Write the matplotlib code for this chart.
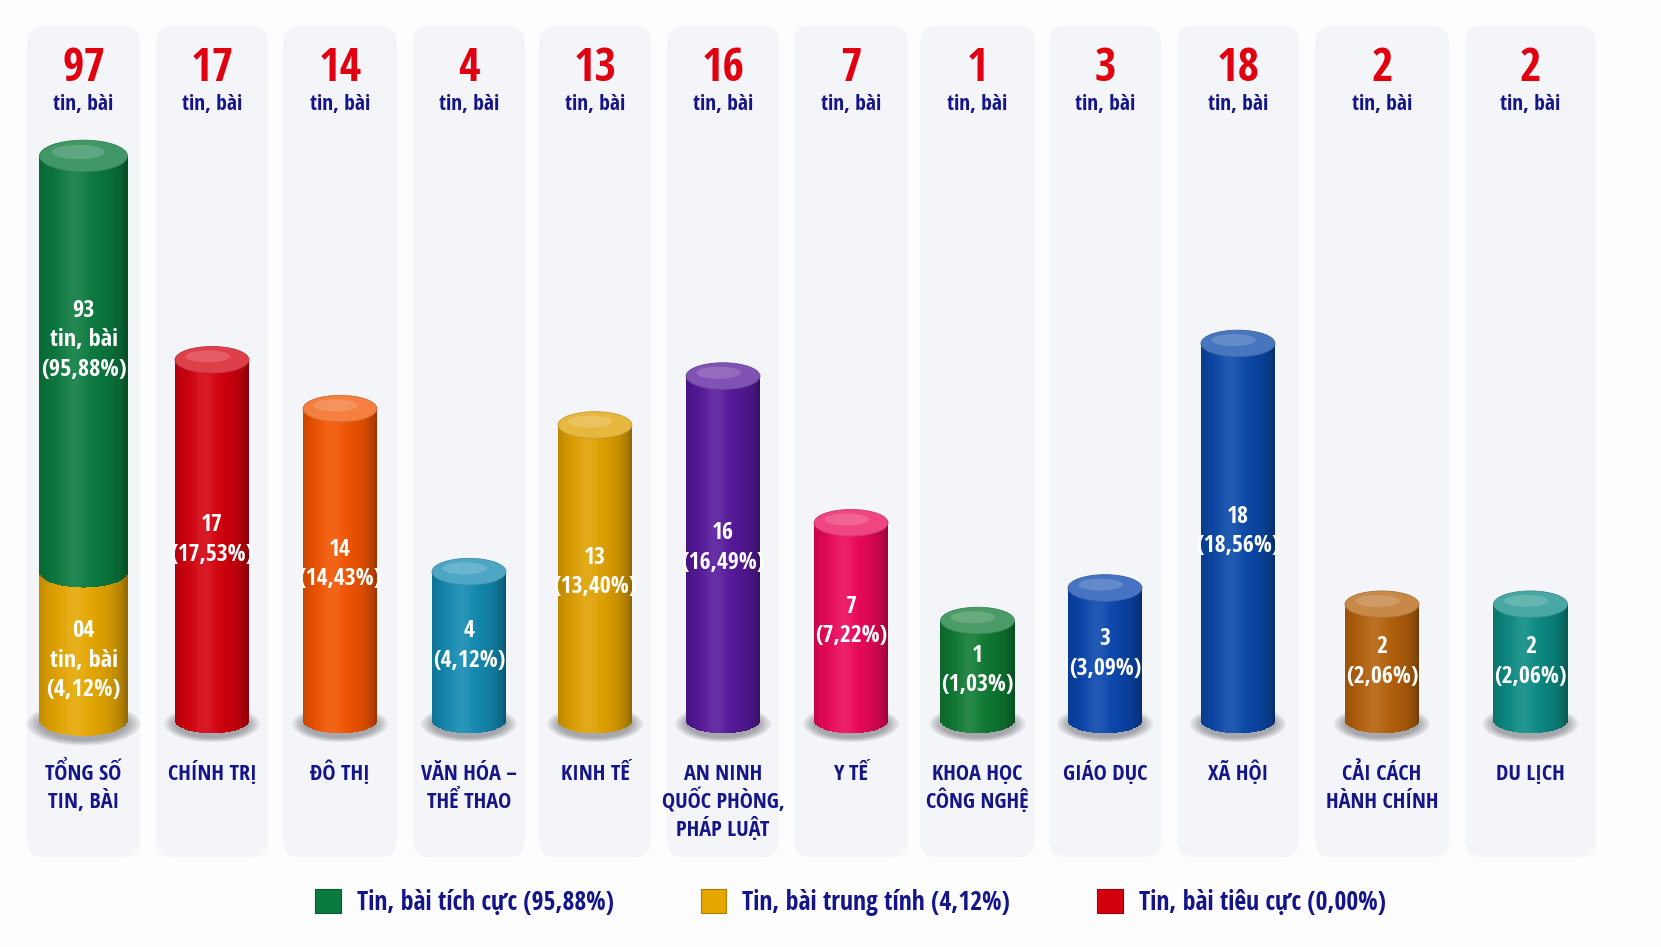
import matplotlib
matplotlib.use("Agg")
import matplotlib.pyplot as plt
import numpy as np
from matplotlib import transforms
from matplotlib.colors import to_rgb
from matplotlib.patches import Ellipse, FancyBboxPatch, Patch

# ---- data ----
categories = ["TỔNG SỐ\nTIN, BÀI", "CHÍNH TRỊ", "ĐÔ THỊ", "VĂN HÓA –\nTHỂ THAO", "KINH TẾ",
              "AN NINH\nQUỐC PHÒNG,\nPHÁP LUẬT", "Y TẾ", "KHOA HỌC\nCÔNG NGHỆ", "GIÁO DỤC",
              "XÃ HỘI", "CẢI CÁCH\nHÀNH CHÍNH", "DU LỊCH"]
counts = [97, 17, 14, 4, 13, 16, 7, 1, 3, 18, 2, 2]
shares = [100.0, 17.53, 14.43, 4.12, 13.40, 16.49, 7.22, 1.03, 3.09, 18.56, 2.06, 2.06]

sentiment_labels = ["Tin, bài tích cực", "Tin, bài trung tính", "Tin, bài tiêu cực"]
sentiment_counts = [93, 4, 0]
sentiment_shares = [95.88, 4.12, 0.00]

# ---- styles / layout ----
bar_colors = [None, "#d3000d", "#f15400", "#1289b0", "#dfa000", "#56189a", "#ea0757",
              "#0e7a32", "#0a46ad", "#0a48a8", "#b4600b", "#0b8a83"]
sentiment_colors = ["#0a7a3e", "#e5a600", "#d3000d"]
RED = "#e0000f"
NAVY = "#15158a"

W, H = 1661, 947
panel_left = [27, 156, 283, 413, 539, 667, 794, 920, 1049, 1177, 1315, 1465]
panel_right = [140, 268, 397, 525, 651, 779, 908, 1035, 1161, 1299, 1449, 1596]
PANEL_TOP, PANEL_BOT = 26, 857
BASE_PX = 720          # pixel row of the cylinder bottoms
PX_PER_UNIT = 16.3
BASE = -5.1            # cylinders start below zero so small values stay visible
KNEE, K = 20, 0.1234   # values above KNEE are compressed (total column)
LABEL_BASELINES = [780, 808, 836]

plt.rcParams['font.family'] = ['Open Sans Condensed', 'Open Sans', 'DejaVu Sans']
plt.rcParams['font.weight'] = 'bold'


def fwd(v):
    v = np.asarray(v, dtype=float)
    return np.where(v <= KNEE, v, KNEE + (v - KNEE) * K)


def inv(f):
    f = np.asarray(f, dtype=float)
    return np.where(f <= KNEE, f, KNEE + (f - KNEE) / K)


def yfrac(px):
    return 1 - px / H


def fmt(p):
    return f"{p:.2f}".replace('.', ',')


def shade(color, t):
    rgb = np.array(to_rgb(color))
    dark = 0.56 + 0.44 * np.sqrt(max(0.0, 1 - ((t + 0.12) / 1.12) ** 2))
    c = rgb * dark
    hi = 0.10 * np.exp(-((t + 0.2) / 0.3) ** 2)
    return tuple(np.clip(c + (1 - c) * hi, 0, 1))


def mix(color, other, a):
    return tuple((1 - a) * np.array(to_rgb(color)) + a * np.array(to_rgb(other)))


fig = plt.figure(figsize=(W / 100, H / 100), dpi=100)
fig.patch.set_facecolor("#fdfdfe")
ax = fig.add_axes([0, 0, 1, 1])
ax.set_yscale('function', functions=(fwd, inv))
ax.set_xlim(0, W)
ax.set_ylim(BASE - (H - BASE_PX) / PX_PER_UNIT, float(inv(BASE + BASE_PX / PX_PER_UNIT)))
ax.axis('off')

centers = [(l + r) / 2 for l, r in zip(panel_left, panel_right)]


def cap(xc, v, w, ry, face, z):
    tr = fig.dpi_scale_trans + transforms.ScaledTranslation(xc, v, ax.transData)
    ax.add_patch(Ellipse((0, 0), w / 100, 2 * ry / 100, transform=tr, facecolor=face,
                         edgecolor=mix(face, "black", 0.15), lw=0.6, zorder=z))
    ax.add_patch(Ellipse((-w * 0.06 / 100, ry * 0.25 / 100), w * 0.6 / 100, ry * 0.9 / 100,
                         transform=tr, facecolor="white", alpha=0.16, lw=0, zorder=z))


def shadow(xc, w, ry):
    tr = fig.dpi_scale_trans + transforms.ScaledTranslation(xc, BASE, ax.transData)
    for s in np.linspace(1.3, 1.0, 7):
        ax.add_patch(Ellipse((0, -4 / 100), w * s / 100, 2 * ry * s * 1.05 / 100, transform=tr,
                             facecolor="#1c1c28", alpha=0.06, lw=0, zorder=1))


def cylinder(xc, w, v0, v1, color, z=2, n=48):
    ry = w * 0.18
    ts = (np.arange(n) + 0.5) / n * 2 - 1
    for t in ts:
        bottom = v0 - ry * np.sqrt(1 - t ** 2) / PX_PER_UNIT
        ax.bar(xc + t * w / 2, v1 - bottom, bottom=bottom, width=w / n * 1.5,
               color=shade(color, t), linewidth=0, zorder=z)
    return ry


# panels
for l, r in zip(panel_left, panel_right):
    ax.add_patch(FancyBboxPatch((l / 100, (H - PANEL_BOT) / 100), (r - l) / 100,
                                (PANEL_BOT - PANEL_TOP) / 100,
                                boxstyle="round,pad=0,rounding_size=0.17",
                                transform=fig.dpi_scale_trans, facecolor="#f4f5f8",
                                edgecolor="none", zorder=0))

tx = ax.get_xaxis_transform()
for i, (xc, cat, n, p) in enumerate(zip(centers, categories, counts, shares)):
    ax.text(xc, yfrac(81), str(n), transform=tx, ha='center', va='baseline',
            color=RED, fontsize=33.5, zorder=5)
    ax.text(xc, yfrac(110), "tin, bài", transform=tx, ha='center', va='baseline',
            color=NAVY, fontsize=15.5, zorder=5)
    for line, yb in zip(cat.split("\n"), LABEL_BASELINES):
        ax.text(xc, yfrac(yb), line, transform=tx, ha='center', va='baseline',
                color=NAVY, fontsize=16, zorder=5)

    if i == 0:
        w = 88
        ry = w * 0.18
        shadow(xc, w, ry)
        neutral, positive = sentiment_counts[1], sentiment_counts[0]
        cylinder(xc, w, BASE, neutral, sentiment_colors[1])
        cylinder(xc, w, neutral, neutral + positive, sentiment_colors[0], z=3)
        cap(xc, neutral + positive, w, ry, mix(sentiment_colors[0], "white", 0.22), 4)
        f0, f1 = float(fwd(neutral)), float(fwd(neutral + positive))
        ax.text(xc, float(inv(f0 + 0.557 * (f1 - f0))),
                f"{positive}\ntin, bài\n({fmt(sentiment_shares[0])}%)",
                ha='center', va='center', color='white', fontsize=17.5, linespacing=1.3, zorder=6)
        ax.text(xc, BASE + 0.40 * (neutral - BASE),
                f"{neutral:02d}\ntin, bài\n({fmt(sentiment_shares[1])}%)",
                ha='center', va='center', color='white', fontsize=17.5, linespacing=1.3, zorder=6)
    else:
        w = 74
        ry = w * 0.18
        shadow(xc, w, ry)
        cylinder(xc, w, BASE, n, bar_colors[i])
        cap(xc, n, w, ry, mix(bar_colors[i], "white", 0.25), 4)
        ax.text(xc, (BASE + n) / 2, f"{n}\n({fmt(p)}%)", ha='center', va='center',
                color='white', fontsize=17, linespacing=1.3, zorder=6)

handles = [Patch(facecolor=c, edgecolor=mix(c, "black", 0.25), lw=0.8) for c in sentiment_colors]
labels = [f"{s} ({fmt(p)}%)" for s, p in zip(sentiment_labels, sentiment_shares)]
fig.legend(handles, labels, loc='center', bbox_to_anchor=(0.512, yfrac(902)), ncol=3,
           frameon=False, fontsize=18.5, labelcolor=NAVY, handlelength=1.0, handleheight=1.05,
           handletextpad=0.62, columnspacing=3.4)

fig.savefig("out.png", dpi=100, facecolor=fig.get_facecolor())
